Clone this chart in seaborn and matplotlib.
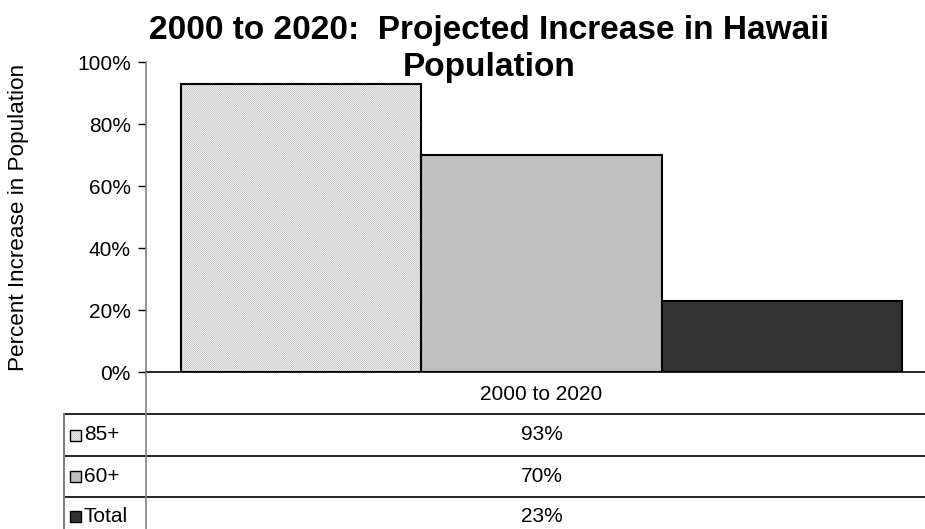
import matplotlib
matplotlib.use("Agg")
import matplotlib.pyplot as plt
import seaborn as sns
import pandas as pd
from matplotlib.patches import Rectangle
from matplotlib.lines import Line2D
from matplotlib.ticker import PercentFormatter

# ---- data ----
categories = ["2000 to 2020"]
series = ["85+", "60+", "Total"]
values = [93, 70, 23]
table_labels = ["93%", "70%", "23%"]
title = "2000 to 2020:  Projected Increase in Hawaii\nPopulation"
ylabel = "Percent Increase in Population"

colors = ["#ffffff", "#c0c0c0", "#333333"]

sns.set_theme(style="white")
plt.rcParams['font.family'] = ['Liberation Sans', 'DejaVu Sans']
plt.rcParams['hatch.linewidth'] = 0.4
for k in ["text.color", "axes.labelcolor", "xtick.color", "ytick.color"]:
    plt.rcParams[k] = "black"

W, H = 925, 529
fig = plt.figure(figsize=(W / 100, H / 100), dpi=100)

def fx(px):
    return px / W

def fy(py):
    return 1 - py / H

ax = fig.add_axes([fx(146), fy(372), fx(925) - fx(146), fy(62) - fy(372)])

df = pd.DataFrame({"period": categories * len(series), "group": series, "value": values})
sns.barplot(data=df, x="period", y="value", hue="group", hue_order=series,
            palette=colors, edgecolor="black", linewidth=1.5, saturation=1,
            width=0.8, legend=False, ax=ax)

# hatch the 85+ bar
HATCH = "\\" * 16
HATCH_COLOR = "#a6a6a6"
bars = [p for p in ax.patches if isinstance(p, Rectangle)]
first = bars[0]
first.set_hatch(HATCH)
first.set_edgecolor(HATCH_COLOR)
first.set_facecolor("#ffffff")
first.set_linewidth(0)
outline = Rectangle(first.get_xy(), first.get_width(), first.get_height(),
                    facecolor="none", edgecolor="black", linewidth=1.5, zorder=first.get_zorder() + 0.1)
ax.add_patch(outline)

ax.set_ylim(0, 100)
ax.set_xlim(-0.439, 0.4256)
ax.set_yticks([0, 20, 40, 60, 80, 100])
ax.yaxis.set_major_formatter(PercentFormatter(decimals=0))
ax.tick_params(axis="y", length=6, width=1, color="black", labelsize=15, pad=5, left=True, direction="out")
ax.tick_params(axis="x", length=0, labelsize=15, pad=9)
ax.set_xlabel("")
ax.set_ylabel("")
for s in ["top", "right"]:
    ax.spines[s].set_visible(False)
ax.spines["left"].set_color("#808080")
ax.spines["left"].set_linewidth(1.2)
ax.spines["bottom"].set_color("black")
ax.spines["bottom"].set_linewidth(1.2)

# title and y label
fig.text(fx(489), fy(49), title, ha="center", va="center", fontsize=24,
         fontweight="bold", linespacing=1.25)
fig.text(fx(19), fy(217), ylabel, rotation=90, ha="center", va="center", fontsize=16.2)

# ---- data table ----
row_lines = [414, 456, 497]
for py in row_lines:
    fig.add_artist(Line2D([fx(64), 1.0], [fy(py), fy(py)], color="black", linewidth=1.2))
fig.add_artist(Line2D([fx(64), fx(64)], [fy(414), 0], color="#808080", linewidth=1.5))
fig.add_artist(Line2D([fx(146), fx(146)], [fy(372), 0], color="#808080", linewidth=1.2))

row_centers = [435, 476, 516]
for i, (name, lab, col) in enumerate(zip(series, table_labels, colors)):
    cy = row_centers[i]
    if i == 0:
        sw = Rectangle((fx(70), fy(cy + 5.5)), fx(11), fy(0) - fy(11), transform=fig.transFigure,
                       facecolor="#ffffff", edgecolor=HATCH_COLOR, linewidth=0, hatch=HATCH)
        fig.add_artist(sw)
        fig.add_artist(Rectangle((fx(70), fy(cy + 5.5)), fx(11), fy(0) - fy(11),
                                 transform=fig.transFigure, facecolor="none",
                                 edgecolor="black", linewidth=1.0))
    else:
        fig.add_artist(Rectangle((fx(70), fy(cy + 5.5)), fx(11), fy(0) - fy(11),
                                 transform=fig.transFigure, facecolor=col,
                                 edgecolor="black", linewidth=1.0))
    fig.text(fx(84), fy(cy), name, ha="left", va="center", fontsize=15)
    fig.text(fx(541.5), fy(cy), lab, ha="center", va="center", fontsize=15)

fig.savefig("out.png", dpi=100)
